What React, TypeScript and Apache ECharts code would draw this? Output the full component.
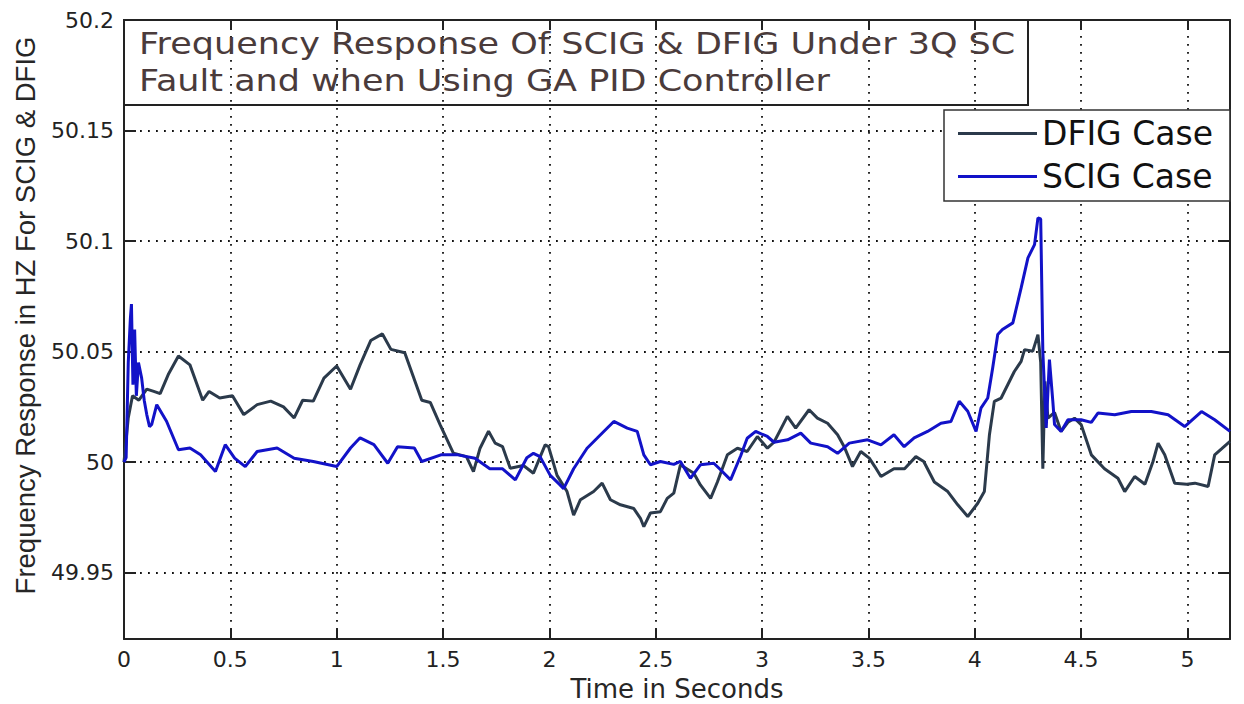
import React, { useEffect, useRef } from 'react';
import * as echarts from 'echarts';

const FONT = 'DejaVu Sans';

const titleLines = [
  'Frequency Response Of SCIG & DFIG Under 3Q SC',
  'Fault and when Using GA PID Controller',
];
const xAxisName = 'Time in Seconds';
const yAxisName = 'Frequency Response in HZ For SCIG & DFIG';
const seriesNames = ['DFIG Case', 'SCIG Case'];

const xTicks = [0, 0.5, 1, 1.5, 2, 2.5, 3, 3.5, 4, 4.5, 5];
const yTicks = [49.95, 50, 50.05, 50.1, 50.15, 50.2];

const dfigTime = [
  0, 0.02, 0.04, 0.07, 0.107, 0.14, 0.17, 0.21, 0.256, 0.31, 0.34, 0.37, 0.4, 0.45, 0.51,
  0.563, 0.626, 0.69, 0.75, 0.8, 0.84, 0.89, 0.94, 1.0, 1.065, 1.11, 1.16, 1.215, 1.255,
  1.32, 1.4, 1.44, 1.486, 1.549, 1.61, 1.643, 1.674, 1.714, 1.745, 1.78, 1.816, 1.878,
  1.925, 1.98, 1.996, 2.036, 2.083, 2.114, 2.146, 2.208, 2.248, 2.287, 2.334, 2.397,
  2.428, 2.444, 2.475, 2.522, 2.554, 2.585, 2.616, 2.679, 2.71, 2.758, 2.79, 2.837,
  2.884, 2.93, 2.978, 3.025, 3.056, 3.119, 3.158, 3.221, 3.26, 3.308, 3.355, 3.386,
  3.425, 3.464, 3.504, 3.53, 3.559, 3.62, 3.67, 3.723, 3.76, 3.81, 3.873, 3.92, 3.967,
  4.014, 4.045, 4.069, 4.092, 4.124, 4.155, 4.186, 4.218, 4.234, 4.273, 4.297, 4.31,
  4.32, 4.33, 4.344, 4.375, 4.406, 4.438, 4.469, 4.5, 4.548, 4.61, 4.673, 4.705, 4.752,
  4.8, 4.838, 4.862, 4.893, 4.94, 4.997, 5.035, 5.097, 5.128, 5.16, 5.2,
];
const dfigFreq = [
  50.0, 50.02, 50.03, 50.028, 50.033, 50.032, 50.031, 50.04, 50.048, 50.044, 50.036,
  50.028, 50.032, 50.029, 50.03, 50.0215, 50.026, 50.0276, 50.025, 50.02, 50.028,
  50.0276, 50.038, 50.0435, 50.033, 50.044, 50.055, 50.058, 50.051, 50.0495, 50.028,
  50.027, 50.017, 50.004, 50.0025, 49.9957, 50.0063, 50.014, 50.0086, 50.007, 49.9972,
  49.9985, 49.995, 50.0078, 50.007, 49.994, 49.9867, 49.976, 49.983, 49.9867, 49.9905,
  49.983, 49.9807, 49.979, 49.9746, 49.9708, 49.977, 49.9776, 49.9836, 49.986, 49.9988,
  49.995, 49.9897, 49.9836, 49.991, 50.0033, 50.0063, 50.0048, 50.0116, 50.0063, 50.009,
  50.0207, 50.0154, 50.0237, 50.0199, 50.0176, 50.0124, 50.007, 49.998, 50.0048,
  50.0018, 49.998, 49.9935, 49.997, 49.997, 50.0025, 50.0003, 49.991, 49.9867, 49.9807,
  49.9754, 49.9814, 49.9867, 50.0124, 50.0275, 50.029, 50.035, 50.041, 50.0456, 50.0509,
  50.0502, 50.0577, 50.045, 49.997, 50.0365, 50.0199, 50.0225, 50.0139, 50.018, 50.0199,
  50.017, 50.0033, 49.997, 49.9927, 49.9867, 49.9935, 49.99, 50.0003, 50.0086, 50.0033,
  49.9905, 49.99, 49.9905, 49.989, 50.0033, 50.006, 50.0094,
];

const scigTime = [
  0, 0.01, 0.02, 0.03, 0.035, 0.042, 0.05, 0.058, 0.068, 0.083, 0.095, 0.107, 0.12, 0.13,
  0.154, 0.2, 0.256, 0.31, 0.36, 0.43, 0.476, 0.52, 0.57, 0.626, 0.72, 0.8, 0.89, 1.0,
  1.065, 1.11, 1.175, 1.24, 1.286, 1.365, 1.4, 1.49, 1.57, 1.65, 1.72, 1.78, 1.84, 1.894,
  1.925, 1.956, 2.004, 2.05, 2.067, 2.114, 2.177, 2.224, 2.303, 2.366, 2.413, 2.444,
  2.475, 2.522, 2.585, 2.616, 2.663, 2.71, 2.773, 2.8, 2.852, 2.9, 2.93, 2.97, 3.025,
  3.056, 3.12, 3.182, 3.229, 3.308, 3.355, 3.41, 3.496, 3.559, 3.62, 3.668, 3.715, 3.778,
  3.841, 3.888, 3.927, 3.967, 4.006, 4.029, 4.061, 4.084, 4.108, 4.13, 4.179, 4.218,
  4.25, 4.281, 4.297, 4.31, 4.32, 4.336, 4.351, 4.367, 4.375, 4.406, 4.438, 4.5, 4.548,
  4.579, 4.658, 4.736, 4.83, 4.909, 4.987, 5.066, 5.128, 5.2,
];
const scigFreq = [
  50.0, 50.002, 50.045, 50.065, 50.0715, 50.035, 50.06, 50.03, 50.045, 50.038, 50.028,
  50.0215, 50.016, 50.017, 50.026, 50.0185, 50.0056, 50.0064, 50.0033, 49.9958, 50.0079,
  50.0018, 49.998, 50.0048, 50.0064, 50.0018, 50.0003, 49.998, 50.0064, 50.011, 50.0079,
  49.9995, 50.007, 50.0064, 50.0003, 50.0033, 50.0033, 50.0018, 49.997, 49.997, 49.992,
  50.002, 50.004, 50.0025, 49.994, 49.9897, 49.988, 49.997, 50.0063, 50.0108, 50.0184,
  50.0154, 50.0139, 50.0033, 49.9988, 50.0003, 49.999, 50.0003, 49.9927, 49.9988,
  49.9995, 49.997, 49.992, 50.003, 50.0108, 50.0139, 50.0116, 50.009, 50.0101, 50.0131,
  50.0086, 50.007, 50.004, 50.0086, 50.0101, 50.0078, 50.0124, 50.007, 50.011, 50.0139,
  50.0176, 50.0184, 50.0275, 50.023, 50.0139, 50.0244, 50.029, 50.0425, 50.0577, 50.06,
  50.063, 50.0788, 50.0924, 50.0984, 50.1105, 50.11, 50.05, 50.0155, 50.0464, 50.0275,
  50.017, 50.0139, 50.0192, 50.0192, 50.018, 50.0222, 50.0214, 50.0229, 50.0229,
  50.0214, 50.0161, 50.0229, 50.0192, 50.0139,
];

const seriesColors = ['#2b3a4b', '#1212c8'];

const pair = (xs: number[], ys: number[]) => xs.map((x, i) => [x, ys[i]]);

export default function App() {
  const ref = useRef<HTMLDivElement>(null);

  useEffect(() => {
    if (!ref.current) return;
    const chart = echarts.init(ref.current, undefined, { renderer: 'svg' });
    const axisLine = { show: true, onZero: false, lineStyle: { color: '#222', width: 2 } };
    const fmt = (v: number) => String(+Number(v).toFixed(2));

    chart.setOption({
      animation: false,
      backgroundColor: '#fff',
      grid: { left: 124, top: 20, right: 14, bottom: 65, outerBoundsMode: 'none' },
      legend: {
        data: seriesNames,
        orient: 'vertical',
        left: 944,
        top: 110,
        padding: [7, 17, 8, 14],
        itemGap: 10,
        itemWidth: 79,
        itemHeight: 3,
        icon: 'rect',
        backgroundColor: '#fff',
        borderColor: '#333',
        borderWidth: 1.5,
        borderRadius: 0,
        textStyle: { fontFamily: FONT, fontSize: 33, color: '#111', lineHeight: 32 },
      },
      xAxis: [
        {
          type: 'value',
          min: 0,
          max: 5.2,
          position: 'bottom',
          name: xAxisName,
          nameLocation: 'middle',
          nameGap: 37,
          nameTextStyle: { fontFamily: FONT, fontSize: 26, color: '#262626' },
          axisLine,
          axisTick: { show: true, inside: true, length: 10, customValues: xTicks, lineStyle: { color: '#222', width: 2 } },
          axisLabel: { customValues: xTicks, formatter: fmt, margin: 9, fontFamily: FONT, fontSize: 22, color: '#222' },
          splitLine: { show: true, lineStyle: { type: [1.8, 6.2], color: '#111', width: 1.8 } },
        },
        {
          type: 'value',
          min: 0,
          max: 5.2,
          position: 'top',
          axisLine,
          axisTick: { show: true, inside: true, length: 10, customValues: xTicks, lineStyle: { color: '#222', width: 2 } },
          axisLabel: { show: false },
          splitLine: { show: false },
        },
      ],
      yAxis: [
        {
          type: 'value',
          min: 49.92,
          max: 50.2,
          position: 'left',
          name: yAxisName,
          nameLocation: 'middle',
          nameRotate: 90,
          nameGap: 85,
          nameTextStyle: {
            fontFamily: 'Liberation Sans',
            fontSize: 27.5,
            color: '#262626',
            padding: [0, 0, 0, 28],
          },
          axisLine,
          axisTick: { show: true, inside: true, length: 12, customValues: yTicks, lineStyle: { color: '#222', width: 2 } },
          axisLabel: { customValues: yTicks, formatter: fmt, margin: 10, fontFamily: FONT, fontSize: 22, color: '#222' },
          splitLine: { show: true, lineStyle: { type: [1.8, 6.2], color: '#111', width: 1.8 } },
        },
        {
          type: 'value',
          min: 49.92,
          max: 50.2,
          position: 'right',
          axisLine,
          axisTick: { show: true, inside: true, length: 12, customValues: yTicks, lineStyle: { color: '#222', width: 2 } },
          axisLabel: { show: false },
          splitLine: { show: false },
        },
      ],
      series: [
        {
          name: seriesNames[0],
          type: 'line',
          data: pair(dfigTime, dfigFreq),
          symbol: 'none',
          showSymbol: false,
          color: seriesColors[0],
          lineStyle: { color: seriesColors[0], width: 3 },
          z: 2,
        },
        {
          name: seriesNames[1],
          type: 'line',
          data: pair(scigTime, scigFreq),
          symbol: 'none',
          showSymbol: false,
          color: seriesColors[1],
          lineStyle: { color: seriesColors[1], width: 3 },
          z: 3,
        },
      ],
      graphic: [
        {
          type: 'rect',
          shape: { x: 124, y: 20, width: 904, height: 85 },
          style: { fill: 'none', stroke: '#222', lineWidth: 2 },
          z: 10,
        },
        {
          type: 'text',
          x: 139,
          y: 62,
          scaleX: 1.148,
          style: {
            text: titleLines.join('\n'),
            fontFamily: FONT,
            fontSize: 30.5,
            lineHeight: 37,
            fill: '#4a3b3b',
            verticalAlign: 'middle',
          },
          z: 10,
        },
      ],
    });

    return () => chart.dispose();
  }, []);

  return (
    <div
      ref={ref}
      style={{ position: 'fixed', left: 0, top: 0, width: 1244, height: 704, background: '#fff' }}
    />
  );
}
